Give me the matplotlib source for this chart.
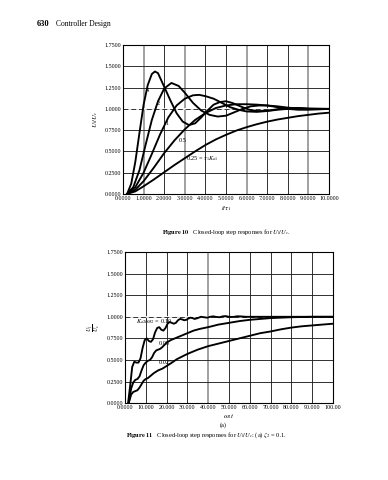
import matplotlib.pyplot as plt

plt.rcParams['font.family'] = ['Liberation Serif', 'DejaVu Serif']
plt.rcParams['mathtext.fontset'] = 'stix'

# Figure 10 : step responses, t/tau1
x4 = [0.2, 0.4, 0.6, 0.8, 1.0, 1.2, 1.4, 1.55, 1.7, 2.0, 2.3, 2.6, 2.9, 3.2, 3.5, 3.8, 4.1, 4.4, 4.7,
      5.0, 5.3, 5.6, 5.9, 6.2, 6.5, 6.8, 7.2, 7.6, 8.0, 8.5, 9.0, 9.5, 10.0]
y4 = [0.0, 0.12, 0.38, 0.72, 1.05, 1.28, 1.41, 1.44, 1.42, 1.26, 1.10, 0.95, 0.85, 0.81, 0.83, 0.90, 0.98,
      1.05, 1.08, 1.09, 1.07, 1.04, 1.01, 0.985, 0.975, 0.975, 0.985, 1.0, 1.01, 1.01, 1.0, 0.997, 1.0]
x2 = [0.2, 0.5, 0.8, 1.1, 1.4, 1.7, 2.0, 2.35, 2.7, 3.0, 3.4, 3.8, 4.2, 4.6, 5.0, 5.4, 5.8, 6.2, 6.6,
      7.0, 7.5, 8.0, 8.5, 9.0, 9.5, 10.0]
y2 = [0.0, 0.08, 0.28, 0.58, 0.87, 1.09, 1.24, 1.305, 1.27, 1.19, 1.07, 0.98, 0.93, 0.91, 0.92, 0.96,
      1.0, 1.03, 1.04, 1.04, 1.02, 1.0, 0.99, 0.99, 0.995, 1.0]
x1 = [0.2, 0.6, 1.0, 1.4, 1.8, 2.2, 2.6, 3.0, 3.4, 3.7, 4.0, 4.4, 4.8, 5.2, 5.6, 6.0, 6.5, 7.0, 7.5,
      8.0, 8.5, 9.0, 10.0]
y1 = [0.0, 0.08, 0.25, 0.47, 0.70, 0.90, 1.04, 1.12, 1.16, 1.165, 1.15, 1.12, 1.07, 1.02, 0.99, 0.97,
      0.965, 0.975, 0.99, 1.0, 1.01, 1.005, 1.0]
x05 = [0.2, 0.6, 1.0, 1.5, 2.0, 2.5, 3.0, 3.5, 4.0, 4.5, 5.0, 5.5, 6.0, 6.5, 7.0, 7.5, 8.0, 8.5, 9.0, 10.0]
y05 = [0.0, 0.05, 0.15, 0.31, 0.48, 0.63, 0.76, 0.87, 0.95, 1.01, 1.04, 1.055, 1.055, 1.05, 1.04, 1.03,
       1.015, 1.005, 1.0, 1.0]
x025 = [0.2, 0.6, 1.0, 1.5, 2.0, 2.5, 3.0, 3.5, 4.0, 4.5, 5.0, 5.5, 6.0, 6.5, 7.0, 7.5, 8.0, 8.5, 9.0,
        9.5, 10.0]
y025 = [0.0, 0.03, 0.09, 0.17, 0.255, 0.34, 0.42, 0.50, 0.575, 0.64, 0.695, 0.745, 0.785, 0.82, 0.85,
        0.875, 0.895, 0.915, 0.93, 0.945, 0.955]

# Figure 11 : step responses, omega2 t
xa = [1.5, 2.5, 3.5, 4.5, 5.5, 6.5, 7.5, 8.5, 9.5, 10.5, 11.5, 12.5, 13.5, 14.5, 15.5, 16.5, 17.5, 18.5,
      19.5, 20.5, 21.5, 22.5, 23.5, 24.5, 25.5, 26.5, 27.5, 28.5, 29.5, 30.5, 31.5, 32.5, 33.5, 35, 36.5,
      38, 39.5, 41, 42.5, 44, 45.5, 47, 48.5, 50, 52, 54, 56, 58, 60, 70, 80, 90, 100]
ya = [0.0, 0.2, 0.42, 0.48, 0.47, 0.47, 0.52, 0.64, 0.73, 0.75, 0.72, 0.71, 0.74, 0.82, 0.87, 0.88, 0.85,
      0.84, 0.87, 0.92, 0.94, 0.93, 0.92, 0.93, 0.96, 0.975, 0.97, 0.96, 0.965, 0.98, 0.99, 0.985, 0.975,
      0.985, 1.0, 0.995, 0.99, 1.0, 1.005, 0.998, 0.995, 1.005, 1.008, 1.0, 0.998, 1.006, 1.004, 1.0,
      1.0, 1.0, 1.0, 1.0, 1.0]
xb = [1.8, 3, 4, 5, 6, 7, 8, 9, 10, 11, 12, 13, 14, 15, 16, 17, 18, 20, 22, 24, 26, 28, 30, 33, 36, 40,
      45, 50, 55, 60, 65, 70, 75, 80, 90, 100]
yb = [0.0, 0.17, 0.24, 0.27, 0.28, 0.31, 0.38, 0.44, 0.47, 0.49, 0.50, 0.53, 0.58, 0.61, 0.62, 0.63,
      0.65, 0.70, 0.73, 0.75, 0.77, 0.79, 0.81, 0.84, 0.86, 0.88, 0.91, 0.93, 0.95, 0.965, 0.975, 0.985,
      0.99, 0.995, 1.0, 1.0]
xc = [1.8, 3, 4, 5, 6, 7, 8, 9, 10, 11, 12, 14, 16, 18, 20, 22, 25, 30, 35, 40, 45, 50, 55, 60, 65, 70,
      75, 80, 85, 90, 95, 100]
yc = [0.0, 0.1, 0.13, 0.14, 0.15, 0.18, 0.22, 0.26, 0.28, 0.29, 0.31, 0.35, 0.38, 0.40, 0.43, 0.46,
      0.51, 0.57, 0.62, 0.66, 0.69, 0.72, 0.75, 0.78, 0.81, 0.83, 0.855, 0.875, 0.89, 0.90, 0.91, 0.92]

yticks = [0, 0.25, 0.5, 0.75, 1.0, 1.25, 1.5, 1.75]
ylabels = ['%.4f' % v for v in yticks]
xticks_top = list(range(11))
xlabels_top = ['%.4f' % v for v in xticks_top]
xticks_bot = list(range(0, 101, 10))
xlabels_bot = ['0.0000'] + ['%.3f' % v for v in xticks_bot[1:-1]] + ['100.00']

fig = plt.figure(figsize=(3.88, 4.8), dpi=100)


def style(ax, xt, xl, xmax, gray):
    ax.set_xlim(0, xmax)
    ax.set_ylim(0, 1.75)
    ax.set_xticks(xt)
    ax.set_xticklabels(xl, fontsize=4.3)
    ax.set_yticks(yticks)
    ax.set_yticklabels(ylabels, fontsize=4.3)
    ax.tick_params(length=0, pad=1.5)
    for v in xt[1:-1]:
        if v in gray:
            ax.axvline(v, color='#9a9a9a', lw=1.3, zorder=1)
        else:
            ax.axvline(v, color='#222222', lw=0.65, zorder=1)
    for v in yticks[1:-1]:
        ax.axhline(v, color='#222222', lw=0.65, zorder=1)
    ax.axhline(1.0, color='white', lw=1.2, zorder=1.5)
    ax.axhline(1.0, color='#333333', lw=0.7, ls=(0, (5, 3)), zorder=1.6)
    for s in ax.spines.values():
        s.set_linewidth(0.8)


ax1 = fig.add_axes([0.317, 0.596, 0.531, 0.31])
style(ax1, xticks_top, xlabels_top, 10, [1, 3, 6, 9])
for xs, ys in [(x4, y4), (x2, y2), (x1, y1), (x05, y05), (x025, y025)]:
    ax1.plot(xs, ys, color='black', lw=1.35, zorder=3)
ax1.text(1.12, 1.20, '4', fontsize=4.5)
ax1.text(1.62, 1.05, '2', fontsize=4.5)
ax1.text(2.08, 0.81, '1', fontsize=4.5)
ax1.text(2.7, 0.61, '0.5', fontsize=4.5)
ax1.text(3.05, 0.40, r'0.25 = $\tau_1 K_{a1}$', fontsize=4.5)
ax1.set_xlabel(r'$t/\tau_1$', fontsize=5, labelpad=2)
ax1.set_ylabel(r'$U_l/U_c$', fontsize=5, labelpad=3)

ax2 = fig.add_axes([0.322, 0.160, 0.536, 0.315])
style(ax2, xticks_bot, xlabels_bot, 100, [40])
for xs, ys in [(xa, ya), (xb, yb), (xc, yc)]:
    ax2.plot(xs, ys, color='black', lw=1.35, zorder=3)
ax2.text(5.5, 0.925, r'$K_{a2}/\omega_2$ = 0.10', fontsize=4.5)
ax2.text(16.3, 0.67, '0.05', fontsize=4.5)
ax2.text(16.3, 0.455, '0.025', fontsize=4.5)
ax2.set_xlabel(r'$\omega_2 t$', fontsize=5, labelpad=1)
ax2.set_ylabel(r'$\frac{U_l}{U_c}$', fontsize=6, labelpad=3)

fig.text(0.095, 0.945, '630', fontsize=6, fontweight='bold')
fig.text(0.145, 0.945, 'Controller Design', fontsize=5.5)
fig.text(0.583, 0.512, r'$\bf{Figure\ 10}$   Closed-loop step responses for $U_l/U_c$.',
         fontsize=4.6, ha='center')
fig.text(0.575, 0.111, '(a)', fontsize=4.6, ha='center')
fig.text(0.532, 0.090, r'$\bf{Figure\ 11}$   Closed-loop step responses for $U_l/U_c$: (a) $\zeta_2$ = 0.1.',
         fontsize=4.6, ha='center')

fig.savefig('out.png', dpi=100)
